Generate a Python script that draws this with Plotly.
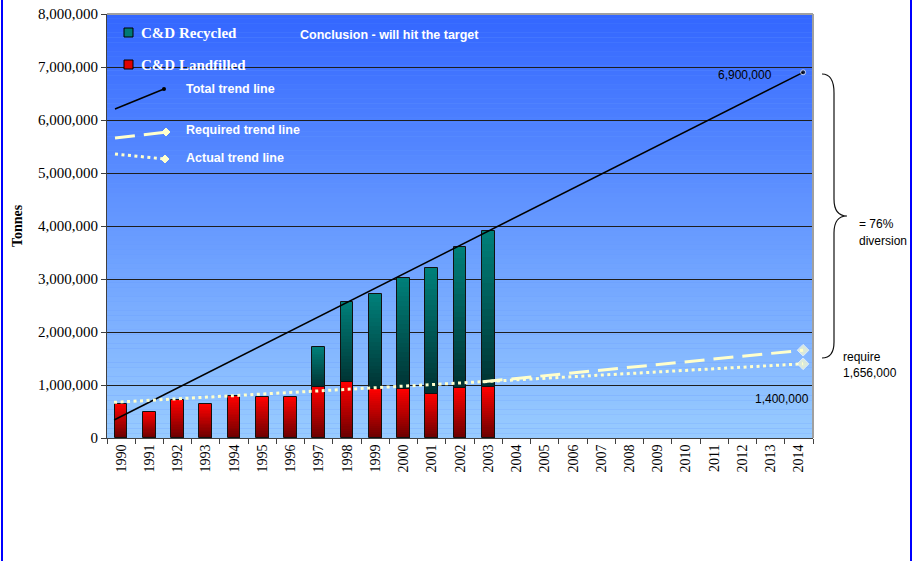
import plotly.graph_objects as go

# ---- data -------------------------------------------------------------
years = list(range(1990, 2015))
data_years = list(range(1990, 2004))
landfilled = [650000, 490000, 710000, 635000, 785000, 770000, 770000,
              965000, 1050000, 920000, 920000, 830000, 940000, 955000]
recycled = [0, 0, 0, 0, 0, 0, 0,
            750000, 1515000, 1790000, 2105000, 2370000, 2670000, 2945000]

total_trend_x = [1989.75, 2014.15]
total_trend_y = [340000, 6900000]
required_trend_x = [2002.8, 2014.15]
required_trend_y = [1060000, 1656000]
actual_trend_x = [1989.75, 2014.15]
actual_trend_y = [673000, 1400000]

year_labels = [str(y) for y in years]

# ---- geometry helpers (figure pixels -> paper coords) ------------------
W_FIG, H_FIG = 916, 561
L, R, T, B = 107, 813, 14, 438
PW, PH = R - L, B - T


def px(x):
    return (x - L) / PW


def py(y):
    return (B - y) / PH


def mix(c1, c2, t):
    return "rgb(%d,%d,%d)" % tuple(round(a + (b - a) * t) for a, b in zip(c1, c2))


SERIF = "Liberation Serif"
SANS = "Liberation Sans"
CREAM = "#ffffcc"

fig = go.Figure()


def gradient_bars(x, base, height, bottom_rgb, top_rgb, steps=24):
    # nested bars, tallest first, each one darker -> vertical gradient
    for k in range(steps):
        frac = (steps - k) / steps
        t = (steps - k - 0.5) / steps
        ys = [h * frac if h else None for h in height]
        fig.add_bar(x=x, y=ys, base=base, width=0.45,
                    marker=dict(color=mix(bottom_rgb, top_rgb, t), line_width=0),
                    hoverinfo="skip", showlegend=False)
    fig.add_bar(x=x, y=[h if h else None for h in height], base=base, width=0.45,
                marker=dict(color="rgba(0,0,0,0)", line=dict(color="#111", width=1)),
                hoverinfo="skip", showlegend=False)


# C&D Landfilled (bottom) and C&D Recycled (stacked on top)
gradient_bars(data_years, [0] * len(data_years), landfilled, (105, 0, 0), (255, 0, 0))
gradient_bars(data_years, landfilled, recycled, (0, 50, 50), (0, 128, 122))

# trend lines
fig.add_scatter(x=total_trend_x, y=total_trend_y, mode="lines+markers",
                line=dict(color="black", width=1.5),
                marker=dict(color="black", size=[0, 5], symbol="circle"),
                hoverinfo="skip", showlegend=False)
fig.add_scatter(x=required_trend_x, y=required_trend_y, mode="lines+markers",
                line=dict(color=CREAM, width=3, dash="20px,9px"),
                marker=dict(color=CREAM, size=[0, 9], symbol="diamond"),
                hoverinfo="skip", showlegend=False)
fig.add_scatter(x=actual_trend_x, y=actual_trend_y, mode="lines+markers",
                line=dict(color=CREAM, width=3, dash="3px,3.5px"),
                marker=dict(color=CREAM, size=[0, 9], symbol="diamond"),
                hoverinfo="skip", showlegend=False)

shapes = []

# plot-area gradient background
n_bg = 90
top_bg, bot_bg = (51, 102, 255), (153, 204, 255)
for i in range(n_bg):
    shapes.append(dict(type="rect", xref="paper", yref="paper", layer="below",
                       x0=0, x1=1, y0=i / n_bg, y1=(i + 1.02) / n_bg,
                       fillcolor=mix(bot_bg, top_bg, (i + 0.5) / n_bg),
                       line_width=0))

# top / right frame of the plot area
shapes.append(dict(type="line", xref="paper", yref="paper", x0=0, x1=1, y0=1, y1=1,
                   line=dict(color="#a0a0a0", width=2)))
shapes.append(dict(type="line", xref="paper", yref="paper", x0=1, x1=1, y0=0, y1=1,
                   line=dict(color="#a0a0a0", width=2)))

# blue page border
for bx in (2, 911):
    shapes.append(dict(type="line", xref="paper", yref="paper",
                       x0=px(bx), x1=px(bx), y0=py(-5), y1=py(570),
                       line=dict(color="#0000ff", width=2)))


def pline(x0, y0, x1, y1, **line):
    shapes.append(dict(type="line", xref="paper", yref="paper",
                       x0=px(x0), y0=py(y0), x1=px(x1), y1=py(y1), line=line))


def diamond(cx, cy, r, color):
    pts = [(cx - r, cy), (cx, cy - r), (cx + r, cy), (cx, cy + r)]
    path = "M " + " L ".join("%f,%f" % (px(a), py(b)) for a, b in pts) + " Z"
    shapes.append(dict(type="path", xref="paper", yref="paper", path=path,
                       fillcolor=color, line=dict(color=color, width=1)))


# legend swatches
shapes.append(dict(type="rect", xref="paper", yref="paper",
                   x0=px(124), x1=px(133), y0=py(37), y1=py(28),
                   fillcolor="#007a75", line=dict(color="#000", width=1)))
shapes.append(dict(type="rect", xref="paper", yref="paper",
                   x0=px(124), x1=px(133), y0=py(69), y1=py(60),
                   fillcolor="#e00000", line=dict(color="#000", width=1)))

# legend line samples
pline(115, 109, 164, 89, color="black", width=1.5)
shapes.append(dict(type="circle", xref="paper", yref="paper",
                   x0=px(162), x1=px(166), y0=py(91), y1=py(87),
                   fillcolor="black", line_width=0))
pline(115, 138, 163, 132.5, color=CREAM, width=3, dash="20px,9px")
diamond(166, 132, 4, CREAM)
pline(115, 154, 162, 158.7, color=CREAM, width=3, dash="3px,3.5px")
diamond(165, 159, 4, CREAM)

# curly brace spanning total vs required
brace_pts = "M {a} C {b} {c} {d} L {e} C {f} {g} {h} C {i} {j} {k} L {l} C {m} {n} {o}"


def P(x, y):
    return "%f,%f" % (px(x), py(y))


brace = brace_pts.format(
    a=P(822, 74), b=P(830, 74), c=P(834, 80), d=P(834, 93),
    e=P(834, 199), f=P(834, 209), g=P(838, 216), h=P(847, 216),
    i=P(838, 216), j=P(834, 223), k=P(834, 233),
    l=P(834, 342), m=P(834, 352), n=P(830, 358), o=P(822, 358))
shapes.append(dict(type="path", xref="paper", yref="paper", path=brace,
                   line=dict(color="#111", width=1.2)))

annotations = []


def text(x, y, s, size=12, color="black", family=SANS, bold=False,
         xanchor="left", angle=0):
    annotations.append(dict(
        x=px(x), y=py(y), xref="paper", yref="paper", showarrow=False,
        text="<b>%s</b>" % s if bold else s, xanchor=xanchor, yanchor="middle",
        textangle=angle, font=dict(family=family, size=size, color=color)))


text(139, 32.5, "C&amp;D Recycled", size=15, color="white", family=SERIF, bold=True)
text(139, 64.5, "C&amp;D Landfilled", size=15, color="white", family=SERIF, bold=True)
text(389, 35, "Conclusion - will hit the target", size=12.5, color="white",
     bold=True, xanchor="center")
text(184, 89, "Total trend line", size=12.5, color="white", bold=True)
text(184, 129.5, "Required trend line", size=12.5, color="white", bold=True)
text(184, 157.5, "Actual trend line", size=12.5, color="white", bold=True)

text(716, 75, "6,900,000")
text(753, 399, "1,400,000")
text(857, 224, "= 76%")
text(857, 241, "diversion")
text(841, 357, "require")
text(841, 373, "1,656,000")

text(17, 226, "Tonnes", size=14, family=SERIF, bold=True, xanchor="center", angle=-90)

fig.update_layout(
    width=W_FIG, height=H_FIG,
    margin=dict(l=L, r=W_FIG - R, t=T, b=H_FIG - B, pad=0, autoexpand=False),
    paper_bgcolor="white", plot_bgcolor="#6699ff",
    barmode="overlay", bargap=0,
    showlegend=False,
    shapes=shapes, annotations=annotations,
    xaxis=dict(
        range=[1989.5, 2014.5], tickmode="array", tickvals=years,
        ticktext=year_labels, tickangle=-90, ticks="",
        tickfont=dict(family=SERIF, size=14, color="black"),
        showgrid=False, zeroline=False, automargin=False,
        showline=True, linecolor="#404040", linewidth=1,
        minor=dict(ticks="outside", ticklen=5, tickcolor="#404040", tickwidth=1,
                   tickmode="array", tickvals=[y - 0.5 for y in years] + [2014.5],
                   showgrid=False),
        fixedrange=True,
    ),
    yaxis=dict(
        range=[0, 8000000], tickmode="linear", tick0=0, dtick=1000000,
        tickformat=",d", ticks="outside", ticklen=5, tickcolor="#404040",
        tickfont=dict(family=SERIF, size=15, color="black"),
        showgrid=True, gridcolor="#1e1e1e", gridwidth=1, zeroline=False,
        automargin=False,
        showline=True, linecolor="#404040", linewidth=1,
        fixedrange=True,
    ),
)

fig.write_html("out.html")
